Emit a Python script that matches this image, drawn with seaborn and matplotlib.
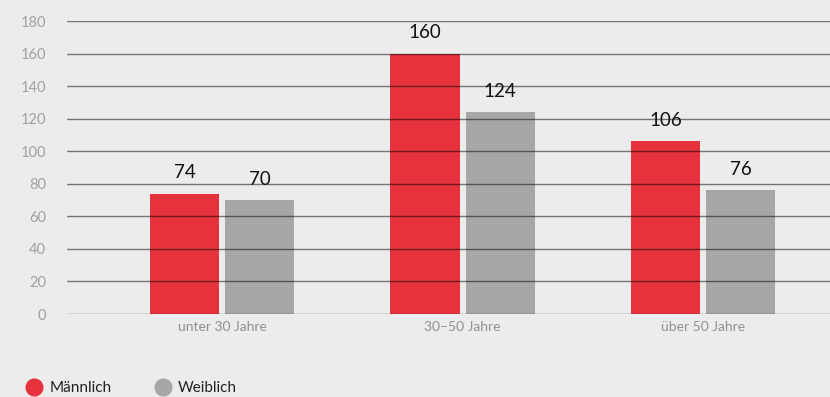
import matplotlib
matplotlib.use("Agg")
import matplotlib.pyplot as plt
from matplotlib.lines import Line2D
import seaborn as sns
import pandas as pd

categories = ["unter 30 Jahre", "30–50 Jahre", "über 50 Jahre"]
maennlich = [74, 160, 106]
weiblich = [70, 124, 76]
series_names = ["Männlich", "Weiblich"]
yticks = [0, 20, 40, 60, 80, 100, 120, 140, 160, 180]

RED = "#e5323d"
GRAY = "#a8a7a5"
BG = "#ececec"

df = pd.DataFrame({
    "Kategorie": categories * 2,
    "Wert": maennlich + weiblich,
    "Geschlecht": [series_names[0]] * 3 + [series_names[1]] * 3,
})

sns.set_theme(style="white")
plt.rcParams["font.family"] = ["Lato", "DejaVu Sans"]

fig = plt.figure(figsize=(8.3, 3.97), dpi=100, facecolor=BG)
ax = fig.add_axes([0.0807, 0.209, 0.93, 0.738])
ax.set_facecolor(BG)

sns.barplot(data=df, x="Kategorie", y="Wert", hue="Geschlecht",
            palette=[RED, GRAY], width=0.625, gap=0.08, ax=ax,
            legend=False, saturation=1, errorbar=None, linewidth=0)

for c in ax.containers:
    ax.bar_label(c, labels=[f"{int(v)}" for v in c.datavalues],
                 padding=9, fontsize=13.5, color="#111111")

ax.set_ylim(0, 180)
ax.set_xlim(-0.645, 2.565)
ax.set_yticks(yticks)
ax.yaxis.grid(True, color="black", alpha=0.5, linewidth=1)
ax.set_axisbelow(False)
for s in ax.spines.values():
    s.set_visible(False)
ax.tick_params(axis="y", length=0, pad=15, labelsize=10.5, labelcolor="#a0a0a0")
ax.tick_params(axis="x", length=0, pad=5, labelsize=10, labelcolor="#909090")
ax.set_xlabel("")
ax.set_ylabel("")

handles = [Line2D([], [], marker="o", linestyle="", markersize=12,
                  markerfacecolor=col, markeredgecolor=col)
           for col in (RED, GRAY)]
fig.legend(handles, series_names, loc="center left",
           bbox_to_anchor=(0.0154, 0.022), ncol=2, frameon=False,
           fontsize=11, handlelength=1.0, handletextpad=0.5,
           columnspacing=2.85, labelcolor="#222222")

fig.savefig("out.png", dpi=100, facecolor=BG)
